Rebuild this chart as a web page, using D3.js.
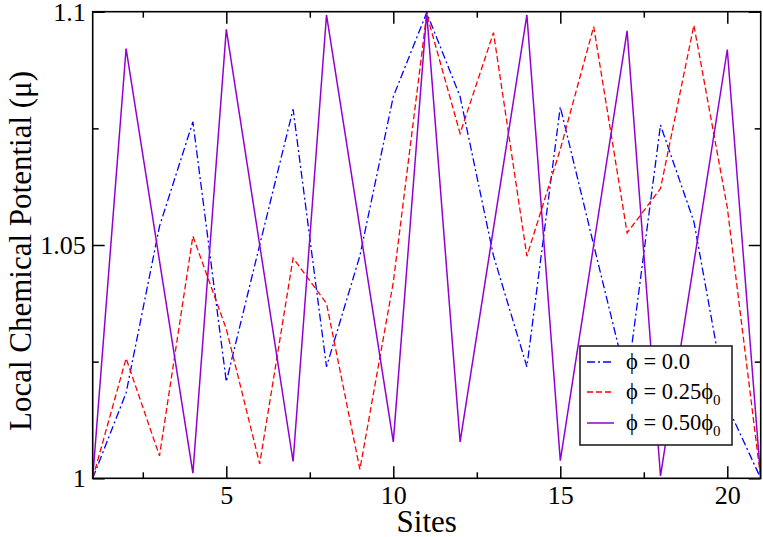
<!DOCTYPE html>
<html>
<head>
<meta charset="utf-8">
<script src="https://cdn.jsdelivr.net/npm/d3@7"></script>
<style>
  html, body { margin: 0; padding: 0; background: #fff; }
  svg { display: block; font-family: "Liberation Serif", "DejaVu Serif", serif; }
</style>
</head>
<body>
<svg id="chart" width="763" height="537"></svg>
<script>
// ---- data ----
const sites = [1,2,3,4,5,6,7,8,9,10,11,12,13,14,15,16,17,18,19,20,21];
const phi000 = [1.000, 1.0183, 1.054, 1.0764, 1.0207, 1.050, 1.0791, 1.0239, 1.0477, 1.0818, 1.0998,
                1.0818, 1.0477, 1.0239, 1.0796, 1.050, 1.0207, 1.0757, 1.055, 1.0155, 1.000];
const phi025 = [1.000, 1.0257, 1.0048, 1.0519, 1.032, 1.0031, 1.0472, 1.0375, 1.0019, 1.042, 1.0995,
                1.0739, 1.0955, 1.0476, 1.0705, 1.0968, 1.0526, 1.0621, 1.0971, 1.058, 1.000];
const phi050 = [1.000, 1.0921, 1.0466, 1.0011, 1.0962, 1.050, 1.0036, 1.0993, 1.0536, 1.0078, 1.0998,
                1.0078, 1.0536, 1.0993, 1.0038, 1.050, 1.0959, 1.0005, 1.0462, 1.0919, 1.000];
const xMajorTicks = [5, 10, 15, 20];
const xMinorTicks = [2.5, 7.5, 12.5, 17.5];
const yMajorTicks = [1, 1.05, 1.1];
const yMinorTicks = [1.025, 1.075];
const yTickLabels = ["1", "1.05", "1.1"];
const legendLabels = [["ϕ = 0.0", ""], ["ϕ = 0.25ϕ", "0"], ["ϕ = 0.50ϕ", "0"]];
const xTitle = "Sites";
const yTitle = "Local Chemical Potential (μ)";

// ---- layout ----
const svg = d3.select("#chart");
const L = 92.7, R = 760.7, T = 11.7, B = 478.3;
const x = d3.scaleLinear().domain([1, 21]).range([L, R]);
const y = d3.scaleLinear().domain([1, 1.1]).range([B, T]);

const styles = [
  { color: "#0000ff", dash: "8,3,2,3", width: 1.3 },
  { color: "#ff0000", dash: "6,3", width: 1.3 },
  { color: "#9400d3", dash: null, width: 1.5 }
];
const seriesData = [phi000, phi025, phi050];

svg.append("defs").append("clipPath").attr("id", "clip")
  .append("rect").attr("x", L).attr("y", T - 2).attr("width", R - L).attr("height", B - T + 4);

const line = d3.line().x((d, i) => x(sites[i])).y(d => y(d));
const g = svg.append("g").attr("clip-path", "url(#clip)");
seriesData.forEach((vals, k) => {
  g.append("path")
    .datum(vals)
    .attr("d", line)
    .attr("fill", "none")
    .attr("stroke", styles[k].color)
    .attr("stroke-width", styles[k].width)
    .attr("stroke-dasharray", styles[k].dash)
    .attr("stroke-linejoin", "miter");
});

function styleAxis(sel) {
  sel.select(".domain").remove();
  sel.selectAll(".tick line").attr("stroke", "#000").attr("stroke-width", 1.5);
  sel.selectAll(".tick text").attr("fill", "#000").attr("font-size", 26)
     .attr("font-family", "Liberation Serif, DejaVu Serif, serif");
}
svg.append("g").attr("transform", `translate(0,${B})`)
  .call(d3.axisBottom(x).tickValues(xMajorTicks).tickSize(-12).tickPadding(7).tickFormat(d3.format("d")))
  .call(styleAxis);
svg.append("g").attr("transform", `translate(0,${B})`)
  .call(d3.axisBottom(x).tickValues(xMinorTicks).tickSize(-6).tickFormat(""))
  .call(styleAxis);
svg.append("g").attr("transform", `translate(0,${T})`)
  .call(d3.axisTop(x).tickValues(xMajorTicks).tickSize(-12).tickFormat(""))
  .call(styleAxis);
svg.append("g").attr("transform", `translate(0,${T})`)
  .call(d3.axisTop(x).tickValues(xMinorTicks).tickSize(-6).tickFormat(""))
  .call(styleAxis);
svg.append("g").attr("transform", `translate(${L},0)`)
  .call(d3.axisLeft(y).tickValues(yMajorTicks).tickSize(-12).tickPadding(7)
        .tickFormat((d, i) => yTickLabels[i]))
  .call(styleAxis);
svg.append("g").attr("transform", `translate(${L},0)`)
  .call(d3.axisLeft(y).tickValues(yMinorTicks).tickSize(-6).tickFormat(""))
  .call(styleAxis);
svg.append("g").attr("transform", `translate(${R},0)`)
  .call(d3.axisRight(y).tickValues(yMajorTicks).tickSize(-12).tickFormat(""))
  .call(styleAxis);
svg.append("g").attr("transform", `translate(${R},0)`)
  .call(d3.axisRight(y).tickValues(yMinorTicks).tickSize(-6).tickFormat(""))
  .call(styleAxis);

svg.append("rect").attr("x", L).attr("y", T).attr("width", R - L).attr("height", B - T)
  .attr("fill", "none").attr("stroke", "#000").attr("stroke-width", 1.6);

svg.append("text").attr("x", (L + R) / 2).attr("y", 532)
  .attr("text-anchor", "middle").attr("font-size", 31).text(xTitle);
svg.append("text").attr("transform", `translate(31,${(T + B) / 2 + 6}) rotate(-90)`)
  .attr("text-anchor", "middle").attr("font-size", 31).text(yTitle);

const lg = svg.append("g");
lg.append("rect").attr("x", 580).attr("y", 346).attr("width", 152).attr("height", 99)
  .attr("fill", "#fff").attr("stroke", "#222").attr("stroke-width", 1.6);
const rowY = [362, 392, 423];
legendLabels.forEach((lab, k) => {
  lg.append("line").attr("x1", 587).attr("x2", 614).attr("y1", rowY[k]).attr("y2", rowY[k])
    .attr("stroke", styles[k].color).attr("stroke-width", styles[k].width)
    .attr("stroke-dasharray", styles[k].dash);
  const t = lg.append("text").attr("x", 626).attr("y", rowY[k] + 7).attr("font-size", 22.5);
  t.append("tspan").text(lab[0]);
  if (lab[1]) t.append("tspan").attr("font-size", 15).attr("dy", 6).text(lab[1]);
});
</script>
</body>
</html>
